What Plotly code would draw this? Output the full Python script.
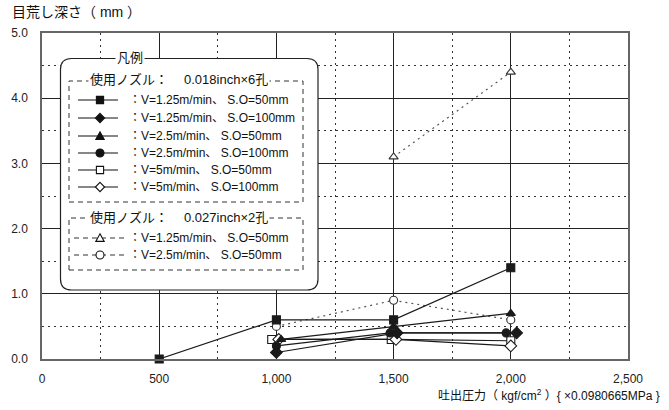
import plotly.graph_objects as go

# ---- data ----
x_sq = [500, 1000, 1500, 2000];  y_sq = [0.0, 0.6, 0.6, 1.4]
x_dia = [1000, 1515, 2025];      y_dia = [0.1, 0.4, 0.4]
x_tri = [1020, 1500, 2000];      y_tri = [0.3, 0.5, 0.7]
x_cir = [1000, 1485, 1980];      y_cir = [0.2, 0.4, 0.4]
x_osq = [980, 1490, 2000];       y_osq = [0.3, 0.3, 0.28]
x_odia = [1010, 1510, 2000];     y_odia = [0.3, 0.3, 0.2]
x_otri = [1500, 2000];           y_otri = [3.1, 4.4]
x_ocir = [1000, 1500, 2000];     y_ocir = [0.5, 0.9, 0.6]

labels_a = ["：V=1.25m/min、 S.O=50mm", "：V=1.25m/min、 S.O=100mm",
            "：V=2.5m/min、 S.O=50mm", "：V=2.5m/min、 S.O=100mm",
            "：V=5m/min、 S.O=50mm", "：V=5m/min、 S.O=100mm"]
labels_b = ["：V=1.25m/min、 S.O=50mm", "：V=2.5m/min、 S.O=50mm"]
nozzle_label = "使用ノズル：　"
nozzle_a = "0.018inch×6孔"
nozzle_b = "0.027inch×2孔"

FONT = "Liberation Sans, Arial, Noto Sans CJK JP"
DARK = "#1a1a1a"
GRAYL = "#555555"

W, H = 669, 410
L, R, T, B = 42, 628, 33, 359

fig = go.Figure()

def add(x, y, sym, fill, dash="solid", lc=DARK, mc=DARK):
    fig.add_trace(go.Scatter(
        x=x, y=y, mode="lines+markers", cliponaxis=False, showlegend=False,
        line=dict(color=lc, width=1.2, dash=dash),
        marker=dict(symbol=sym, size=8 if sym != "diamond" else 9,
                    color=fill, line=dict(color=mc, width=1.1))))

add(x_otri, y_otri, "triangle-up", "white", "2px,4px", GRAYL, "#333")
add(x_ocir, y_ocir, "circle", "white", "2px,4px", GRAYL, "#333")
add(x_sq, y_sq, "square", DARK)
add(x_osq, y_osq, "square", "white")
add(x_odia, y_odia, "diamond", "white")
add(x_cir, y_cir, "circle", DARK)
add(x_dia, y_dia, "diamond", DARK)
add(x_tri, y_tri, "triangle-up", DARK)

# ---- legend box (drawn as shapes in pixel->paper coords) ----
def px(x): return (x - L) / (R - L)
def py(y): return (B - y) / (B - T)

shapes = []
bx0, bx1, by0, by1, rr = 60.5, 318, 58.5, 290, 11
rx, ry = rr / (R - L), rr / (B - T)
X0, X1, Y0, Y1 = px(bx0), px(bx1), py(by1), py(by0)
path = (f"M{X0+rx},{Y1} L{X1-rx},{Y1} Q{X1},{Y1} {X1},{Y1-ry} "
        f"L{X1},{Y0+ry} Q{X1},{Y0} {X1-rx},{Y0} L{X0+rx},{Y0} "
        f"Q{X0},{Y0} {X0},{Y0+ry} L{X0},{Y1-ry} Q{X0},{Y1} {X0+rx},{Y1} Z")
shapes.append(dict(type="path", xref="paper", yref="paper", path=path,
                   fillcolor="white", line=dict(color="#222", width=1.2), layer="above"))

def drect(x0, y0, x1, y1):
    shapes.append(dict(type="rect", xref="paper", yref="paper",
                       x0=px(x0), x1=px(x1), y0=py(y1), y1=py(y0),
                       line=dict(color="#333", width=1, dash="5px,4px"), layer="above"))

drect(69, 81, 303, 202)
drect(69, 218, 303, 270)

def hline(x0, x1, y, dash="solid", color="#111"):
    shapes.append(dict(type="line", xref="paper", yref="paper",
                       x0=px(x0), x1=px(x1), y0=py(y), y1=py(y),
                       line=dict(color=color, width=1.2, dash=dash), layer="above"))

def marker(kind, cx, cy, filled, s=3.6):
    fc = "#111" if filled else "white"
    ln = dict(color="#111", width=1.1)
    if kind == "square":
        shapes.append(dict(type="rect", xref="paper", yref="paper",
                           x0=px(cx - s), x1=px(cx + s), y0=py(cy + s), y1=py(cy - s),
                           fillcolor=fc, line=ln, layer="above"))
    elif kind == "circle":
        shapes.append(dict(type="circle", xref="paper", yref="paper",
                           x0=px(cx - s - 0.4), x1=px(cx + s + 0.4), y0=py(cy + s + 0.4), y1=py(cy - s - 0.4),
                           fillcolor=fc, line=ln, layer="above"))
    elif kind == "diamond":
        d = s + 1
        p = (f"M{px(cx)},{py(cy-d)} L{px(cx+d)},{py(cy)} L{px(cx)},{py(cy+d)} "
             f"L{px(cx-d)},{py(cy)} Z")
        shapes.append(dict(type="path", xref="paper", yref="paper", path=p,
                           fillcolor=fc, line=ln, layer="above"))
    elif kind == "triangle":
        d = s + 0.6
        p = (f"M{px(cx)},{py(cy-d)} L{px(cx+d)},{py(cy+d*0.8)} "
             f"L{px(cx-d)},{py(cy+d*0.8)} Z")
        shapes.append(dict(type="path", xref="paper", yref="paper", path=p,
                           fillcolor=fc, line=ln, layer="above"))

ann = []
def text(x, y, s, anchor="left", size=12, bg=None):
    d = dict(x=px(x), y=py(y), xref="paper", yref="paper", text=s, showarrow=False,
             xanchor=anchor, yanchor="middle", font=dict(family=FONT, size=size, color="#111"))
    if bg:
        d["bgcolor"] = bg
        d["borderpad"] = 1
    ann.append(d)

kinds_a = [("square", True), ("diamond", True), ("triangle", True),
           ("circle", True), ("square", False), ("diamond", False)]
ys_a = [100, 118, 136, 153, 170, 187]
for (k, f), yy, lab in zip(kinds_a, ys_a, labels_a):
    hline(78, 118, yy)
    marker(k, 100, yy, f)
    text(127, yy, lab)

kinds_b = [("triangle", False), ("circle", False)]
ys_b = [238, 255]
for (k, f), yy, lab in zip(kinds_b, ys_b, labels_b):
    hline(74, 124, yy, dash="5px,4px", color="#333")
    marker(k, 100, yy, f)
    text(127, yy, lab)

for yy, noz in ((80, nozzle_a), (217, nozzle_b)):
    text(88, yy, nozzle_label, size=13, bg="white")
    text(182, yy, noz, size=13, bg="white")
text(130, 57, "凡例", anchor="center", size=13, bg="white")

# axis titles
ann.append(dict(x=0, y=1.0, xref="paper", yref="paper", yshift=21, xshift=-32,
                text="目荒し深さ（ mm ）", showarrow=False, xanchor="left", yanchor="middle",
                font=dict(family=FONT, size=14, color="#111")))
ann.append(dict(x=1.0, y=0, xref="paper", yref="paper", xshift=34, yshift=-36,
                text="吐出圧力（ kgf/cm<sup>2</sup> ）{ ×0.0980665MPa }", showarrow=False,
                xanchor="right", yanchor="middle",
                font=dict(family=FONT, size=12, color="#111")))

fig.update_layout(
    width=W, height=H, autosize=False,
    margin=dict(l=L, r=W - R, t=T, b=H - B, pad=0),
    paper_bgcolor="white", plot_bgcolor="white",
    shapes=shapes, annotations=ann,
    font=dict(family=FONT, size=12, color="#222"),
    xaxis=dict(range=[0, 2500], dtick=500, tick0=0, tickformat=",",
               showgrid=True, gridcolor="#222", gridwidth=1,
               minor=dict(dtick=250, tick0=0, showgrid=True, gridcolor="#333",
                          griddash="2px,4px", gridwidth=1),
               showline=True, linecolor="#666", linewidth=2, mirror=True,
               ticks="outside", ticklen=8, tickcolor="rgba(0,0,0,0)",
               zeroline=False, tickfont=dict(size=12)),
    yaxis=dict(range=[0, 5], dtick=1, tick0=0, tickformat=".1f",
               showgrid=True, gridcolor="#222", gridwidth=1,
               minor=dict(dtick=0.5, tick0=0, showgrid=True, gridcolor="#333",
                          griddash="2px,4px", gridwidth=1),
               showline=True, linecolor="#666", linewidth=1.5, mirror=True,
               ticks="outside", ticklen=10, tickcolor="rgba(0,0,0,0)",
               zeroline=False, tickfont=dict(size=12)),
)

fig.write_html("out.html")
